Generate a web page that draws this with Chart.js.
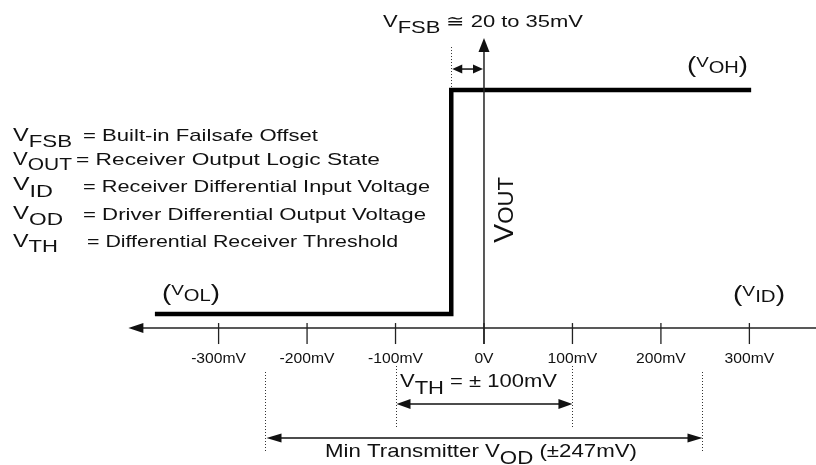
<!DOCTYPE html>
<html><head><meta charset="utf-8">
<script src="https://cdn.jsdelivr.net/npm/chart.js@4.4.0/dist/chart.umd.min.js"></script>
<style>html,body{margin:0;padding:0;background:#fff}canvas{display:block}</style>
</head><body>
<canvas id="c" width="816" height="465"></canvas>
<script>
// ---- data ----
const tickValues = [-300, -200, -100, 0, 100, 200, 300];
const tickLabels = ['-300mV', '-200mV', '-100mV', '0V', '100mV', '200mV', '300mV'];
const transferX = [-372, -37, -37, 302];   // mV
const transferY = [0, 0, 1, 1];            // logic level (VOL=0, VOH=1)
const vfsbValue = -37;                     // failsafe offset
const vthValues = [-100, 100];
const vodValues = [-247, 247];
const axisRange = [-402, 385];

const FONT = '"Liberation Sans", Arial, Helvetica, sans-serif';
const INK = '#111';

function rich(ctx, parts, x, y, W, rot) {
  ctx.save();
  let nat = 0;
  parts.forEach(p => { ctx.font = p.s + 'px ' + FONT; p.w = ctx.measureText(p.t).width; nat += p.w; });
  const sx = W / nat;
  ctx.translate(x, y);
  if (rot) { ctx.scale(rot, 1); ctx.rotate(-Math.PI / 2); }
  ctx.scale(sx, 1);
  ctx.textBaseline = 'alphabetic'; ctx.textAlign = 'left'; ctx.fillStyle = INK;
  let cx = 0;
  parts.forEach(p => { ctx.font = p.s + 'px ' + FONT; ctx.fillText(p.t, cx, p.dy || 0); cx += p.w; });
  ctx.restore();
}
function natW(ctx, t, s) { ctx.save(); ctx.font = s + 'px ' + FONT; const w = ctx.measureText(t).width; ctx.restore(); return w; }

function head(ctx, tx, ty, dir, len, half) {
  ctx.beginPath();
  if (dir === 'l') { ctx.moveTo(tx, ty); ctx.lineTo(tx + len, ty - half); ctx.lineTo(tx + len, ty + half); }
  if (dir === 'r') { ctx.moveTo(tx, ty); ctx.lineTo(tx - len, ty - half); ctx.lineTo(tx - len, ty + half); }
  if (dir === 'u') { ctx.moveTo(tx, ty); ctx.lineTo(tx - half, ty + len); ctx.lineTo(tx + half, ty + len); }
  ctx.closePath(); ctx.fill();
}
function dbl(ctx, x1, x2, y, len, half, lw) {
  ctx.beginPath(); ctx.lineWidth = lw; ctx.moveTo(x1 + len - 1, y); ctx.lineTo(x2 - len + 1, y); ctx.stroke();
  head(ctx, x1, y, 'l', len, half); head(ctx, x2, y, 'r', len, half);
}
function dotted(ctx, x, y1, y2) {
  ctx.save(); ctx.setLineDash([1, 2]); ctx.lineWidth = 1; ctx.strokeStyle = '#333';
  ctx.beginPath(); ctx.moveTo(Math.round(x) + 0.5, y1); ctx.lineTo(Math.round(x) + 0.5, y2); ctx.stroke(); ctx.restore();
}
function paren(ctx, x, B, sub, W) {
  rich(ctx, [{t: '(', s: 22, dy: 5}, {t: 'V', s: 15}, {t: sub, s: 16, dy: 6}, {t: ')', s: 22, dy: 5}], x, B, W);
}

const deco = {
  id: 'deco',
  afterDatasetsDraw(chart) {
    const ctx = chart.ctx, xs = chart.scales.x, ys = chart.scales.y;
    const px = v => xs.getPixelForValue(v);
    const yLow = ys.getPixelForValue(0), yHigh = ys.getPixelForValue(1);
    const axisY = yLow + 14;
    ctx.save();
    ctx.strokeStyle = '#222'; ctx.fillStyle = '#111';
    // horizontal axis
    const xl = px(axisRange[0]), xr = px(axisRange[1]);
    ctx.lineWidth = 1.5;
    ctx.beginPath(); ctx.moveTo(xl + 10, axisY); ctx.lineTo(xr, axisY); ctx.stroke();
    head(ctx, xl, axisY, 'l', 15, 5);
    head(ctx, xr + 12, axisY, 'r', 15, 5);
    // vertical axis
    const x0 = px(0);
    ctx.beginPath(); ctx.moveTo(x0, axisY + 16); ctx.lineTo(x0, yHigh - 40); ctx.stroke();
    head(ctx, x0, yHigh - 52, 'u', 14, 5.5);
    // ticks + labels
    ctx.lineWidth = 1.3;
    tickValues.forEach((v, i) => {
      const p = px(v);
      ctx.beginPath(); ctx.moveTo(p, axisY - 5); ctx.lineTo(p, axisY + 16); ctx.stroke();
      const w = natW(ctx, tickLabels[i], 14) * 1.12;
      rich(ctx, [{t: tickLabels[i], s: 14}], p - w / 2, axisY + 35, w);
    });
    // VFSB marker
    dotted(ctx, px(vfsbValue), yHigh - 43, yHigh - 2);
    ctx.fillStyle = '#111'; ctx.strokeStyle = '#111';
    dbl(ctx, px(vfsbValue) + 1, x0 - 1, yHigh - 21, 10, 4.5, 1.5);
    // VTH
    vthValues.forEach(v => dotted(ctx, px(v), 366, 428));
    dbl(ctx, px(vthValues[0]) + 1, px(vthValues[1]), 404, 14, 5, 1.5);
    // VOD
    vodValues.forEach(v => dotted(ctx, px(v), 372, 451));
    dbl(ctx, px(vodValues[0]) + 1, px(vodValues[1]), 438, 15, 4.5, 1.5);
    ctx.restore();

    // texts
    rich(ctx, [{t: 'V', s: 17}, {t: 'FSB', s: 17, dy: 6}, {t: ' \u2245 20 to 35mV', s: 17}], 383, 27, 200);
    paren(ctx, 687, 67, 'OH', 61);
    paren(ctx, 162, 295, 'OL', 58);
    paren(ctx, 733, 296, 'ID', 52);
    rich(ctx, [{t: 'V', s: 22}, {t: 'OUT', s: 17}], 513, 243, 66, 1.25);

    const legend = [
      ['FSB', 141, 6, 59, 83, 140.5, 235, '= Built-in Failsafe Offset'],
      ['OUT', 165, 5, 59, 76, 165, 304, '= Receiver Output Logic State'],
      ['ID', 190, 7, 40, 83, 192, 347, '= Receiver Differential Input Voltage'],
      ['OD', 219, 6, 50, 83, 220, 343, '= Driver Differential Output Voltage'],
      ['TH', 247, 5, 45, 87, 247, 311, '= Differential Receiver Threshold']
    ];
    legend.forEach(r => {
      rich(ctx, [{t: 'V', s: 18}, {t: r[0], s: 17, dy: r[2]}], 13, r[1], r[3]);
      rich(ctx, [{t: r[7], s: 17}], r[4], r[5], r[6]);
    });

    rich(ctx, [{t: 'V', s: 19}, {t: 'TH', s: 19, dy: 7}, {t: ' = \u00B1 100mV', s: 19}], 400, 387, 157);
    rich(ctx, [{t: 'Min Transmitter V', s: 19}, {t: 'OD', s: 19, dy: 7}, {t: ' (\u00B1247mV)', s: 19}], 325, 457, 312);
  }
};

new Chart(document.getElementById('c'), {
  type: 'scatter',
  data: {
    datasets: [{
      data: transferX.map((x, i) => ({x: x, y: transferY[i]})),
      showLine: true,
      borderColor: '#000',
      borderWidth: 4.5,
      borderJoinStyle: 'miter',
      borderCapStyle: 'butt',
      pointRadius: 0,
      tension: 0,
      fill: false
    }]
  },
  options: {
    responsive: false,
    animation: false,
    devicePixelRatio: 1,
    layout: {padding: 0},
    plugins: {legend: {display: false}, tooltip: {enabled: false}, title: {display: false}},
    scales: {
      x: {type: 'linear', display: false, min: -547.1, max: 375.3},
      y: {type: 'linear', display: false, min: -0.674, max: 1.402}
    }
  },
  plugins: [deco]
});
</script>
</body></html>
